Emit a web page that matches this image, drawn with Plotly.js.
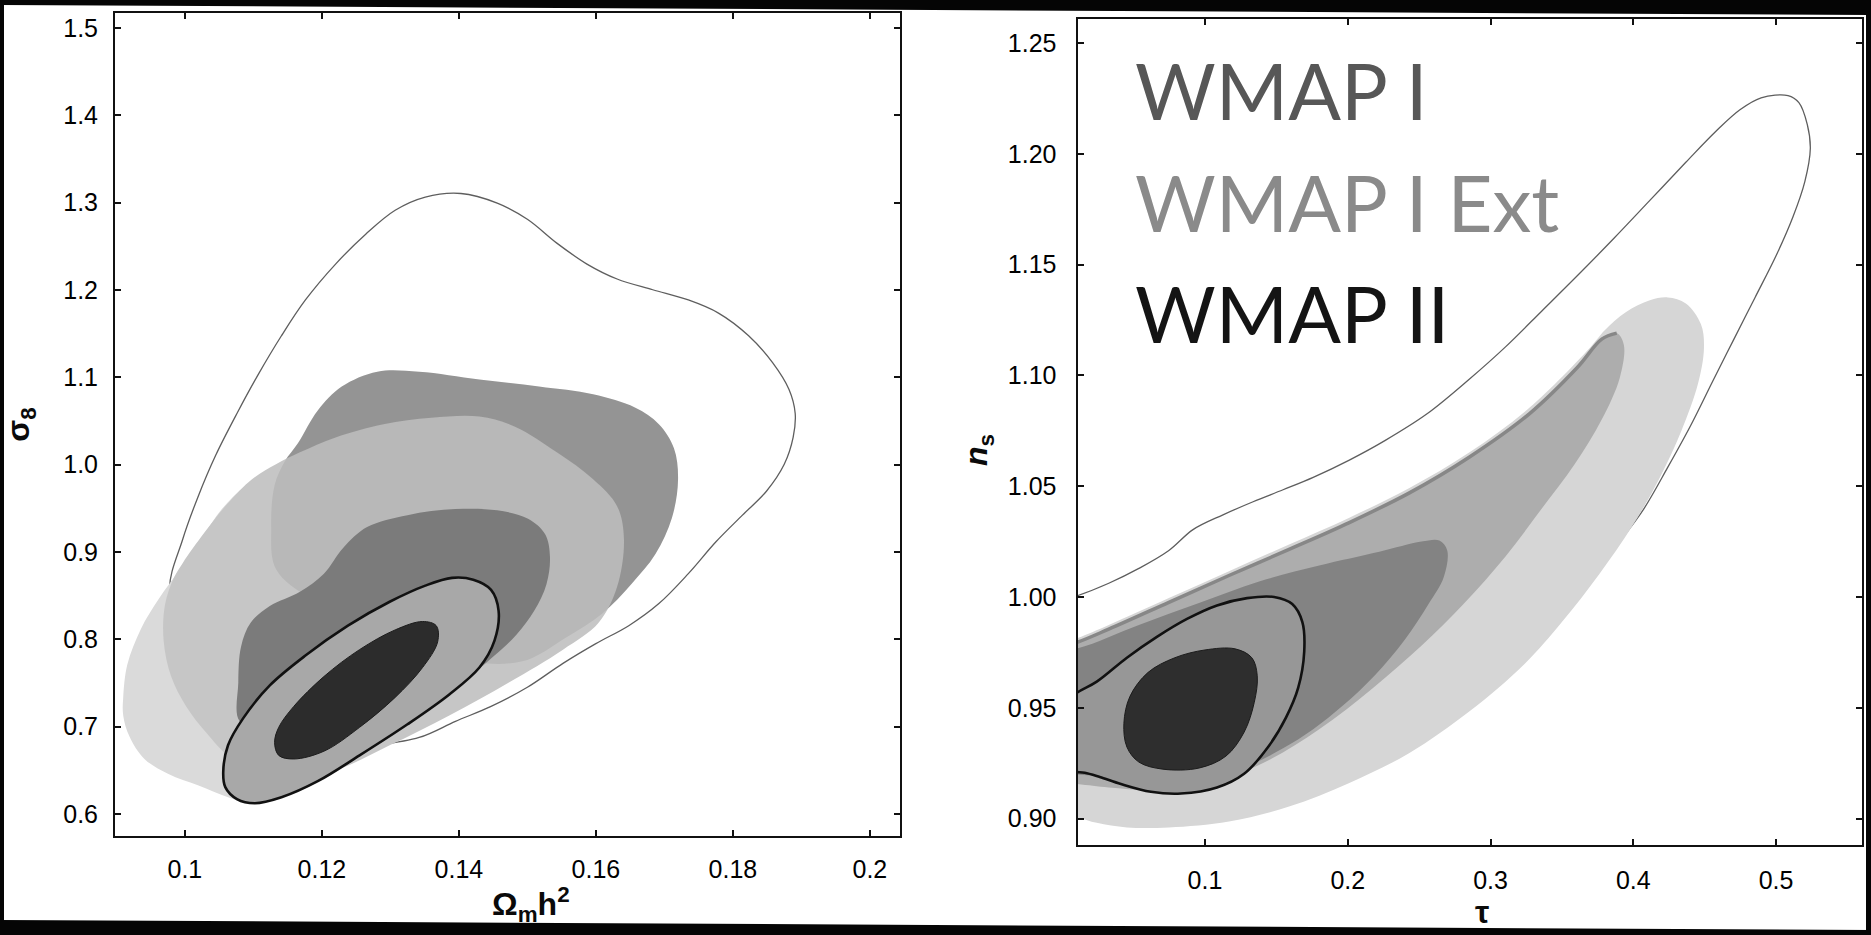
<!DOCTYPE html>
<html>
<head>
<meta charset="utf-8">
<script src="https://cdn.plot.ly/plotly-3.0.1.min.js"></script>
<style>
html, body { margin: 0; padding: 0; background: #ffffff; }
#chart { width: 1871px; height: 935px; }
</style>
</head>
<body>
<div id="chart"></div>
<script>
// ---------------- tick values / labels ----------------
const omegaTickVals = [0.1, 0.12, 0.14, 0.16, 0.18, 0.2];
const omegaTickText = ['0.1', '0.12', '0.14', '0.16', '0.18', '0.2'];
const sigmaTickVals = [0.6, 0.7, 0.8, 0.9, 1.0, 1.1, 1.2, 1.3, 1.4, 1.5];
const sigmaTickText = ['0.6', '0.7', '0.8', '0.9', '1.0', '1.1', '1.2', '1.3', '1.4', '1.5'];
const tauTickVals = [0.1, 0.2, 0.3, 0.4, 0.5];
const tauTickText = ['0.1', '0.2', '0.3', '0.4', '0.5'];
const nsTickVals = [0.90, 0.95, 1.00, 1.05, 1.10, 1.15, 1.20, 1.25];
const nsTickText = ['0.90', '0.95', '1.00', '1.05', '1.10', '1.15', '1.20', '1.25'];

const seriesNames = ['WMAP I', 'WMAP I Ext', 'WMAP II'];
const axisTitles = ['Ω<sub>m</sub>h<sup>2</sup>', 'σ<sub>8</sub>', 'τ', '<i>n</i><sub>s</sub>'];

// ---------------- left panel: Omega_m h^2 vs sigma_8 ----------------
// outer thin contour
const leftOuterX = [0.0978,0.0997,0.1019,0.1045,0.1076,0.1107,0.1141,0.1176,0.1220,0.1264,0.1307,0.1351,0.1403,0.1456,0.1500,0.1543,0.1587,0.1631,0.1683,0.1735,0.1779,0.1823,0.1858,0.1882,0.1891,0.1888,0.1875,0.1849,0.1814,0.1775,0.1735,0.1692,0.1648,0.1600,0.1552,0.1500,0.1447,0.1395,0.1342,0.1255,0.1185,0.1124,0.1072,0.1032,0.1002];
const leftOuterY = [0.8567,0.9149,0.9628,1.0107,1.0586,1.1031,1.1476,1.1886,1.2297,1.2639,1.2913,1.3064,1.3105,1.2995,1.2810,1.2537,1.2297,1.2126,1.2003,1.1886,1.1736,1.1476,1.1168,1.0860,1.0586,1.0312,1.0004,0.9696,0.9422,0.9114,0.8752,0.8409,0.8156,0.7951,0.7725,0.7451,0.7232,0.7061,0.6876,0.6753,0.6650,0.6719,0.6992,0.7574,0.8122];
// WMAP I (medium grey) outer region
const leftW1aX = [0.1165,0.1194,0.1229,0.1281,0.1342,0.1430,0.1517,0.1596,0.1657,0.1692,0.1714,0.1720,0.1711,0.1687,0.1652,0.1609,0.1556,0.1491,0.1395,0.1299,0.1185,0.1133,0.1126,0.1131,0.1146];
const leftW1aY = [1.0244,1.0620,1.0894,1.1065,1.1065,1.0976,1.0894,1.0805,1.0654,1.0463,1.0189,0.9833,0.9388,0.8977,0.8635,0.8293,0.8019,0.7745,0.7780,0.8122,0.8464,0.8806,0.9285,0.9765,1.0038];
// WMAP I (darker) inner region
const leftW1bX = [0.1080,0.1078,0.1082,0.1096,0.1124,0.1168,0.1203,0.1231,0.1266,0.1325,0.1395,0.1456,0.1501,0.1526,0.1533,0.1528,0.1510,0.1484,0.1452,0.1403,0.1342,0.1272,0.1194,0.1124];
const leftW1bY = [0.7061,0.7506,0.7916,0.8190,0.8382,0.8546,0.8752,0.9046,0.9285,0.9422,0.9491,0.9477,0.9381,0.9203,0.8943,0.8635,0.8327,0.8053,0.7814,0.7506,0.7266,0.7061,0.6924,0.6945];
// WMAP I Ext (light) outer region
const leftExtaX = [0.0910,0.0916,0.0936,0.0962,0.0993,0.1024,0.1054,0.1089,0.1128,0.1185,0.1290,0.1395,0.1482,0.1552,0.1604,0.1622,0.1609,0.1565,0.1504,0.1434,0.1360,0.1290,0.1220,0.1150,0.1098,0.1063,0.1019,0.0976,0.0941,0.0919,0.0910];
const leftExtaY = [0.7335,0.7711,0.8122,0.8464,0.8806,0.9149,0.9491,0.9765,0.9956,1.0073,1.0141,1.0107,0.9901,0.9559,0.9149,0.8806,0.8396,0.8053,0.7711,0.7369,0.7061,0.6787,0.6513,0.6274,0.6123,0.6192,0.6329,0.6459,0.6630,0.6890,0.7129];
// WMAP I Ext inner region
const leftExtbX = [0.0984,0.0971,0.0969,0.0980,0.1002,0.1032,0.1063,0.1124,0.1211,0.1299,0.1386,0.1473,0.1552,0.1604,0.1631,0.1641,0.1631,0.1596,0.1543,0.1482,0.1430,0.1360,0.1290,0.1220,0.1168,0.1133,0.1098,0.1063,0.1028,0.0997];
const leftExtbY = [0.8704,0.8396,0.7985,0.7574,0.7232,0.6924,0.6671,0.6411,0.6479,0.6787,0.7129,0.7506,0.7882,0.8190,0.8601,0.9149,0.9525,0.9833,1.0141,1.0435,1.0552,1.0538,1.0463,1.0312,1.0141,1.0004,0.9833,0.9559,0.9217,0.8875];
// WMAP II 2 sigma / 1 sigma
const leftW2aX = [0.1141,0.1194,0.1255,0.1325,0.1386,0.1430,0.1452,0.1458,0.1447,0.1421,0.1390,0.1351,0.1299,0.1238,0.1176,0.1124,0.1085,0.1063,0.1056,0.1059,0.1076,0.1102];
const leftW2aY = [0.6192,0.6376,0.6671,0.7027,0.7369,0.7677,0.7985,0.8327,0.8567,0.8683,0.8704,0.8615,0.8430,0.8156,0.7814,0.7472,0.7095,0.6787,0.6479,0.6308,0.6171,0.6123];
const leftW2bX = [0.1203,0.1255,0.1307,0.1347,0.1369,0.1367,0.1347,0.1307,0.1255,0.1203,0.1159,0.1137,0.1131,0.1137,0.1159];
const leftW2bY = [0.6719,0.6992,0.7335,0.7677,0.7971,0.8156,0.8204,0.8108,0.7882,0.7574,0.7232,0.6992,0.6821,0.6671,0.6630];

// ---------------- right panel: tau vs n_s ----------------
const rightOuterX = [-0.0305,-0.0095,0.0095,0.0326,0.0537,0.0747,0.0916,0.1126,0.1337,0.1547,0.1758,0.2011,0.2263,0.2558,0.2853,0.3105,0.3358,0.3611,0.3863,0.4116,0.4368,0.4579,0.4747,0.4895,0.5084,0.5160,0.5219,0.5240,0.5202,0.5118,0.5000,0.4853,0.4705,0.4558,0.4402,0.4242,0.4074,0.3905,0.3737,0.3442,0.3063,0.2432,0.1589,0.0747,0.0095,-0.0305];
const rightOuterY = [0.9941,0.9968,1.0003,1.0062,1.0129,1.0210,1.0304,1.0371,1.0430,1.0484,1.0540,1.0618,1.0707,1.0828,1.0984,1.1129,1.1290,1.1452,1.1618,1.1790,1.1962,1.2102,1.2199,1.2253,1.2263,1.2231,1.2132,1.2024,1.1876,1.1715,1.1540,1.1352,1.1164,1.0976,1.0774,1.0586,1.0398,1.0250,1.0102,0.9995,0.9780,0.9591,0.9457,0.9376,0.9349,0.9349];
const rightExtX = [-0.0305,0.0095,0.0242,0.0453,0.0747,0.1168,0.1589,0.2011,0.2432,0.2853,0.3240,0.3500,0.3760,0.3990,0.4180,0.4335,0.4453,0.4495,0.4474,0.4368,0.4242,0.4116,0.3947,0.3800,0.3695,0.3274,0.2853,0.2432,0.2011,0.1589,0.1168,0.0747,0.0326,0.0095,-0.0305];
const rightExtY = [0.9005,0.9005,0.8981,0.8960,0.8960,0.8987,0.9054,0.9161,0.9296,0.9484,0.9699,0.9887,1.0102,1.0317,1.0532,1.0747,1.0962,1.1124,1.1231,1.1325,1.1352,1.1339,1.1285,1.1204,1.1124,1.0855,1.0653,1.0492,1.0358,1.0237,1.0116,0.9995,0.9874,0.9812,0.9726];
const rightW1aX = [-0.0305,0.0095,0.0326,0.0747,0.1168,0.1589,0.2011,0.2432,0.2853,0.3274,0.3611,0.3779,0.3884,0.3934,0.3905,0.3779,0.3589,0.3358,0.3105,0.2811,0.2516,0.2179,0.1800,0.1421,0.1042,0.0663,0.0326,0.0095,-0.0305];
const rightW1aY = [0.9712,0.9793,0.9855,0.9976,1.0097,1.0215,1.0336,1.0470,1.0632,1.0828,1.1038,1.1164,1.1191,1.1137,1.0989,1.0801,1.0599,1.0398,1.0183,0.9968,0.9780,0.9591,0.9403,0.9255,0.9161,0.9129,0.9140,0.9156,0.9175];
const rightW1bX = [-0.0305,0.0095,0.0537,0.0958,0.1379,0.1800,0.2221,0.2516,0.2642,0.2697,0.2672,0.2566,0.2398,0.2187,0.1968,0.1758,0.1547,0.1295,0.1042,0.0747,0.0453,0.0200,0.0095,-0.0305];
const rightW1bY = [0.9726,0.9766,0.9874,0.9973,1.0070,1.0142,1.0204,1.0250,1.0255,1.0210,1.0089,0.9968,0.9806,0.9645,0.9511,0.9403,0.9317,0.9237,0.9188,0.9161,0.9175,0.9194,0.9199,0.9215];
const rightW2aX = [-0.0305,0.0095,0.0242,0.0453,0.0663,0.0874,0.1084,0.1295,0.1484,0.1611,0.1682,0.1695,0.1653,0.1568,0.1442,0.1274,0.1084,0.0832,0.0621,0.0411,0.0263,0.0158,0.0095,-0.0305];
const rightW2aY = [0.9390,0.9565,0.9618,0.9726,0.9820,0.9901,0.9962,0.9995,1.0000,0.9968,0.9887,0.9753,0.9591,0.9457,0.9323,0.9202,0.9140,0.9113,0.9121,0.9156,0.9188,0.9207,0.9210,0.9228];
const rightW2bX = [0.1366,0.1345,0.1274,0.1147,0.0958,0.0705,0.0537,0.0453,0.0432,0.0474,0.0600,0.0789,0.1000,0.1211,0.1328];
const rightW2bY = [0.9645,0.9524,0.9390,0.9282,0.9228,0.9223,0.9255,0.9323,0.9430,0.9551,0.9659,0.9726,0.9761,0.9766,0.9726];

// ---------------- build traces ----------------
const closeArr = a => a.concat([a[0]]);
function area(x, y, fill, axis, lineColor, lineWidth) {
  return {
    type: 'scatter', mode: 'lines', x: closeArr(x), y: closeArr(y),
    xaxis: axis[0], yaxis: axis[1],
    fill: 'toself', fillcolor: fill,
    line: { color: lineColor || fill, width: lineWidth || 0, shape: 'spline', smoothing: 1 },
    hoverinfo: 'skip', showlegend: false
  };
}
function outline(x, y, axis, color, width) {
  return {
    type: 'scatter', mode: 'lines', x: x, y: y,
    xaxis: axis[0], yaxis: axis[1],
    line: { color: color, width: width, shape: 'spline', smoothing: 1 },
    hoverinfo: 'skip', showlegend: false
  };
}
const L = ['x', 'y'];
const R = ['x2', 'y2'];

const traces = [
  outline(closeArr(leftOuterX), closeArr(leftOuterY), L, '#5e5e5e', 1.3),
  area(leftW1aX, leftW1aY, '#a0a0a0', L),
  area(leftExtaX, leftExtaY, '#dadada', L),
  area(leftExtbX, leftExtbY, '#c6c6c6', L),
  area(leftW1aX, leftW1aY, 'rgba(0,0,0,0.07)', L, 'rgba(0,0,0,0)', 0),
  area(leftW1bX, leftW1bY, '#7b7b7b', L),
  area(leftW2aX, leftW2aY, '#a8a8a8', L, '#111111', 2.6),
  area(leftW2bX, leftW2bY, '#2c2c2c', L, '#1c1c1c', 1),

  outline(closeArr(rightOuterX), closeArr(rightOuterY), R, '#5e5e5e', 1.3),
  area(rightExtX, rightExtY, '#d6d6d6', R),
  area(rightW1aX, rightW1aY, '#adadad', R),
  outline(rightW1aX.slice(0, 13), rightW1aY.slice(0, 13), R, '#878787', 3.5),
  area(rightW1bX, rightW1bY, '#838383', R),
  area(rightW2aX, rightW2aY, '#979797', R, '#111111', 2.6),
  area(rightW2bX, rightW2bY, '#2e2e2e', R, '#1c1c1c', 1)
];

// ---------------- layout ----------------
const FONT = 'Liberation Sans, Arial, sans-serif';
const tickFont = { family: FONT, size: 25, color: '#000000' };
const titleFont = { family: FONT, size: 32, color: '#0a0a0a' };
function axisBase() {
  return {
    showgrid: false, zeroline: false, showline: true, linecolor: '#111111', linewidth: 2,
    mirror: 'ticks', ticks: 'inside', ticklen: 6, tickwidth: 2, tickcolor: '#111111',
    tickfont: tickFont, automargin: false, fixedrange: true, tickmode: 'array'
  };
}
const W = 1871, H = 935;
const legendFont = c => ({ family: 'Lato, Noto Sans, sans-serif', size: 78, color: c });
const layout = {
  width: W, height: H,
  margin: { l: 0, r: 0, t: 0, b: 0, pad: 0 },
  paper_bgcolor: '#ffffff', plot_bgcolor: '#ffffff',
  showlegend: false,
  xaxis: Object.assign(axisBase(), {
    domain: [115 / W, 900 / W], range: [0.0898, 0.2044], anchor: 'y',
    tickvals: omegaTickVals, ticktext: omegaTickText, ticklabelstandoff: 10
  }),
  yaxis: Object.assign(axisBase(), {
    domain: [1 - 836 / H, 1 - 13 / H], range: [0.5748, 1.5172], anchor: 'x',
    tickvals: sigmaTickVals, ticktext: sigmaTickText, ticklabelstandoff: 10,
    title: { text: '<b>' + axisTitles[1] + '</b>', font: titleFont, standoff: 24 }
  }),
  xaxis2: Object.assign(axisBase(), {
    domain: [1077.5 / W, 1862 / W], range: [0.0107, 0.5602], anchor: 'y2',
    tickvals: tauTickVals, ticktext: tauTickText, ticklabelstandoff: 12
  }),
  yaxis2: Object.assign(axisBase(), {
    domain: [1 - 844.5 / H, 1 - 18.5 / H], range: [0.8883, 1.2611], anchor: 'x2',
    tickvals: nsTickVals, ticktext: nsTickText, ticklabelstandoff: 14
  }),
  annotations: [
    { text: '<b>' + axisTitles[0] + '</b>', xref: 'paper', yref: 'paper', x: 531 / W, y: 1 - 904 / H,
      xanchor: 'center', yanchor: 'middle', showarrow: false, font: titleFont },
    { text: '<b>' + axisTitles[2] + '</b>', xref: 'paper', yref: 'paper', x: 1482 / W, y: 1 - 912 / H,
      xanchor: 'center', yanchor: 'middle', showarrow: false, font: titleFont },
    { text: '<b>' + axisTitles[3] + '</b>', xref: 'paper', yref: 'paper', x: 979 / W, y: 1 - 450 / H,
      xanchor: 'center', yanchor: 'middle', textangle: -90, showarrow: false, font: titleFont },
    { text: seriesNames[0], xref: 'paper', yref: 'paper', x: 1133 / W, y: 1 - 90 / H,
      xanchor: 'left', yanchor: 'middle', showarrow: false, font: legendFont('#575757') },
    { text: seriesNames[1], xref: 'paper', yref: 'paper', x: 1133 / W, y: 1 - 202 / H,
      xanchor: 'left', yanchor: 'middle', showarrow: false, font: legendFont('#8a8a8a') },
    { text: seriesNames[2], xref: 'paper', yref: 'paper', x: 1133 / W, y: 1 - 313 / H,
      xanchor: 'left', yanchor: 'middle', showarrow: false, font: legendFont('#141414') }
  ],
  shapes: [
    { type: 'path', xref: 'paper', yref: 'paper', layer: 'above', line: { width: 0 }, fillcolor: '#050505',
      path: 'M 0 1 L 1 1 L 1 ' + (1 - 15 / H) + ' L 0 ' + (1 - 5 / H) + ' Z' },
    { type: 'path', xref: 'paper', yref: 'paper', layer: 'above', line: { width: 0 }, fillcolor: '#050505',
      path: 'M 0 0 L 1 0 L 1 ' + (5 / H) + ' L 0 ' + (15 / H) + ' Z' },
    { type: 'rect', xref: 'paper', yref: 'paper', layer: 'above', line: { width: 0 }, fillcolor: '#050505',
      x0: 0, x1: 4 / W, y0: 0, y1: 1 },
    { type: 'rect', xref: 'paper', yref: 'paper', layer: 'above', line: { width: 0 }, fillcolor: '#050505',
      x0: 1 - 5 / W, x1: 1, y0: 0, y1: 1 }
  ]
};

Plotly.newPlot('chart', traces, layout, { staticPlot: true, displayModeBar: false });
</script>
</body>
</html>
